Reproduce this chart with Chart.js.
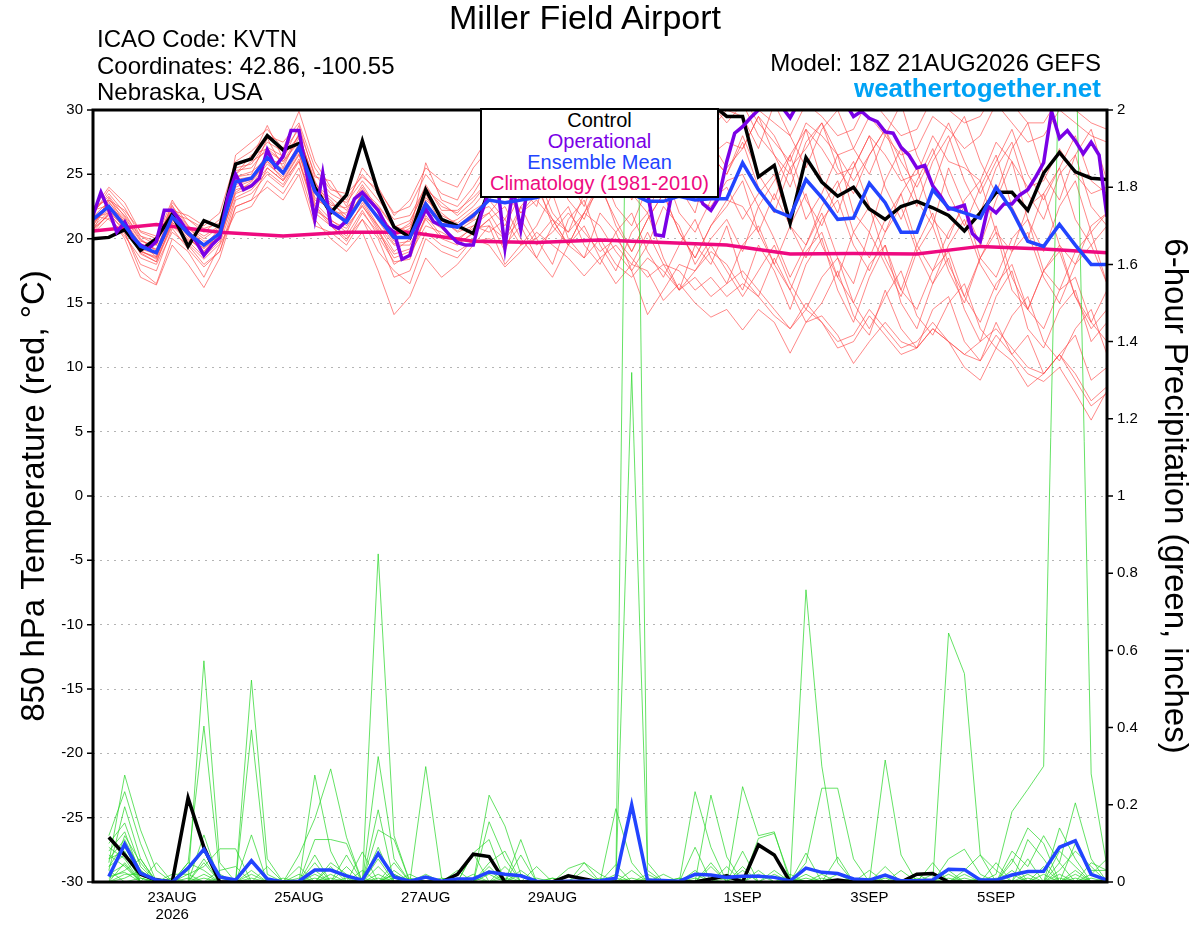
<!DOCTYPE html>
<html>
<head>
<meta charset="utf-8">
<script src="https://cdn.jsdelivr.net/npm/chart.js@4.4.1/dist/chart.umd.min.js"></script>
<style>
  body { margin: 0; background: #fff; }
  #wrap { position: relative; width: 1200px; height: 927px; font-family: "Liberation Sans", Arial, Helvetica, sans-serif; color: #000; }
  #chart { position: absolute; left: 0; top: 0; }
  .txt { position: absolute; line-height: 1; white-space: nowrap; }
  #legendBox { position: absolute; left: 480px; top: 108px; width: 239px; height: 90px; box-sizing: border-box;
    border: 2px solid #000; background: #fff; text-align: center; font-size: 20px; line-height: 21px; }
</style>
</head>
<body>
<div id="wrap">
  <canvas id="chart" width="1200" height="927"></canvas>
  <div class="txt" style="left:0;width:1170px;top:0;text-align:center;font-size:34px">Miller Field Airport</div>
  <div class="txt" style="left:97px;top:27px;font-size:24px">ICAO Code: KVTN</div>
  <div class="txt" style="left:97px;top:54px;font-size:24px">Coordinates: 42.86, -100.55</div>
  <div class="txt" style="left:97px;top:80px;font-size:24px">Nebraska, USA</div>
  <div class="txt" style="right:99px;top:51px;font-size:24px;text-align:right">Model: 18Z 21AUG2026 GEFS</div>
  <div class="txt" style="right:99px;top:75px;font-size:26px;font-weight:bold;color:#00a2f5;text-align:right">weathertogether.net</div>
  <div id="legendBox">
    <div style="color:#000">Control</div>
    <div style="color:#7a00e6">Operational</div>
    <div style="color:#2244ff">Ensemble Mean</div>
    <div style="color:#ee0a80">Climatology (1981-2010)</div>
  </div>
</div>
<script>
// x ticks (forecast hour from 18Z 21AUG2026)
const tickHours = [30, 78, 126, 174, 246, 294, 342];
const tickLabels = [['23AUG', '2026'], '25AUG', '27AUG', '29AUG', '1SEP', '3SEP', '5SEP'];

// 850 hPa temperature, 6-hourly (hour 0..384)
const controlTemp = [20.0,20.1,20.7,19.1,20.0,21.9,19.4,21.4,20.9, 25.8,26.2,28.0,26.9,27.4,
  24.0,22.0,23.4,27.6,23.6,20.9,20.1,23.8,21.5,21.0,20.4,
  23.8,24.5,24.2,25.0,26.0,25.3,26.0,27.0,26.5,27.2,28.0,27.0,28.0,29.0,30.5,29.5,
  29.5,24.8,25.7,21.2,26.3,24.4,23.3,24.0,22.3,21.5,22.5,22.9,22.4,21.8,20.6,22.0,23.6,23.6,22.2,25.1,26.7,25.2,24.7,24.6];
const meanTemp = [21.5,22.5,21.0,19.4,18.9,21.7,20.4,19.5,20.4, 24.4,24.7,26.3,25.1,27.1,
  23.7,22.2,21.3,23.2,21.6,20.1,20.1,22.7,21.1,20.9,21.8,
  23.0,22.8,23.0,23.2,23.6,23.8,24.0,23.6,23.4,23.5,22.9,22.9,23.3,23.0,23.1,23.1,
  25.9,23.8,22.2,21.7,24.6,23.2,21.5,21.6,24.3,22.8,20.5,20.5,23.8,22.4,22.0,21.6,24.0,22.2,19.8,19.4,21.1,19.5,18.0,18.0];
// operational run, 3-hourly (hour 0..384)
const operTemp = [21.8,23.6,22.2,20.5,21.3,20.1,19.5,19.2, 19.8,22.2,22.2,21.4,20.5,19.8,18.7,19.5,
  20.1,23.2,25.0,23.8,24.1,24.7,26.9,25.6, 26.4,28.4,28.4,25.0,21.5,25.1,21.1,20.8,
  21.4,23.1,23.6,22.9,22.2,21.0,20.5,18.4, 18.7,20.9,22.3,21.3,21.0,20.3,19.7,19.5,
  19.5,21.9,23.7,24.5,19.3,24.0,20.7,24.5, 26.0,27.5,28.5,29.0,29.5,30.2,30.5,30.2,
  30.5,30.8,30.5,30.3,29.0,27.0,23.5,20.3, 20.2,23.3,25.0,26.0,24.0,22.7,22.2,23.2,
  26.0,28.2,28.7,29.4,30.0,31.0,30.5,30.2, 29.4,30.5,31.0,31.5,31.0,30.8,31.0,30.5,
  29.5,29.9,29.35,29.1,28.3,28.2,27.1,26.5, 25.5,25.7,24.1,23.3,22.3,22.4,22.6,20.4,
  19.8,22.5,22.0,22.7,22.7,23.4,23.8,24.8, 25.9,29.9,27.8,28.4,27.6,26.6,27.5,26.5,
  21.7];
// climatology, daily at 18Z
const climTemp = [20.6,21.1,20.5,20.2,20.5,20.5,19.8,19.7,19.9,19.7,19.5,18.8,18.85,18.8,19.4,19.2,18.9];

// ensemble members, temperature
const tMem01 = [21.0,22.8,21.6,19.8,19.5,22.5,21.0,20.2,21.0, 25.5,25.8,27.5,26.8,28.5,
  25.0,23.5,22.8,24.5,23.0,21.5,21.8,24.0,22.5,22.0,23.5,
  25.5,25.0,26.0,27.0,28.0,27.5,28.5,28.0,29.0,28.5,29.5,28.0,29.0,30.5,31.0,30.0,
  31.0,29.0,27.5,26.0,29.0,28.0,26.5,27.0,29.5,28.0,26.5,27.0,29.5,28.5,27.0,28.0,30.5,29.0,27.5,28.0,30.0,29.0,28.0,27.5];
const tMem02 = [21.8,21.5,20.2,18.5,18.0,20.5,19.5,18.0,19.0, 23.0,23.5,25.0,24.0,26.0,
  22.5,21.0,19.8,22.0,20.5,18.5,19.0,21.5,20.0,19.5,20.5,
  21.5,19.0,22.5,20.0,18.0,21.5,23.0,19.5,17.5,20.5,22.0,18.5,16.0,19.5,18.0,21.0,
  17.0,15.5,18.5,16.0,13.5,15.0,17.5,14.0,12.5,16.0,13.0,11.5,14.5,15.5,12.0,10.5,13.5,11.0,12.5,9.5,11.0,12.5,9.0,10.0];
const tMem03 = [22.0,23.5,22.0,20.0,19.0,22.0,21.5,20.5,21.5, 25.0,26.5,27.0,26.0,28.0,
  24.5,22.0,22.0,24.0,22.0,20.5,21.0,23.5,21.0,21.5,22.5,
  24.0,26.5,23.5,25.5,28.0,24.5,22.5,26.0,27.5,23.0,25.0,28.5,24.0,22.0,26.5,25.0,
  27.5,24.0,22.0,25.5,21.5,23.5,26.5,22.0,20.5,24.5,27.0,23.0,21.0,25.5,22.5,19.5,23.0,26.0,21.5,19.0,22.5,24.5,20.5,22.0];
const tMem04 = [20.5,22.0,20.5,17.5,16.5,20.0,19.0,17.0,19.5, 22.0,22.5,24.5,23.5,25.5,
  21.5,20.0,19.0,20.5,17.5,14.1,15.5,18.5,17.0,18.0,19.5,
  21.0,18.0,19.5,21.0,23.5,20.0,18.5,22.0,20.5,17.5,19.5,22.5,21.0,18.0,20.0,21.5,
  19.0,22.5,20.0,17.0,19.5,22.0,18.5,16.5,20.5,18.0,15.5,19.0,21.0,17.5,15.0,18.5,20.5,16.0,14.5,17.5,19.0,15.5,13.5,16.0];
const tMem05 = [22.3,24.0,22.8,20.5,20.0,23.0,21.0,19.5,20.0, 26.5,27.5,28.5,27.0,29.9,
  26.0,24.0,23.0,25.0,23.5,21.0,20.5,25.9,23.0,22.5,24.0,
  26.0,25.0,27.5,26.5,28.0,29.0,27.0,28.5,29.5,27.5,28.5,30.0,29.0,28.0,30.5,29.0,
  30.5,28.0,26.5,25.0,28.5,27.0,25.0,25.5,28.0,26.5,24.5,25.0,28.0,26.0,25.5,24.5,27.5,26.0,24.0,24.5,27.0,25.0,23.5,24.0];
const tMem06 = [21.2,22.5,21.5,19.0,18.5,21.5,20.0,19.0,20.5, 24.0,24.5,26.0,25.0,27.0,
  23.0,22.5,21.0,22.5,21.0,19.5,19.5,22.0,21.5,20.5,21.0,
  22.0,23.5,22.0,23.0,21.5,20.5,22.0,21.0,19.0,17.5,14.1,16.0,18.0,17.5,19.0,18.0,
  16.0,19.5,17.5,14.5,18.0,20.0,16.0,13.5,17.0,19.5,15.0,13.0,16.5,18.5,14.5,12.0,15.5,17.5,13.0,11.5,14.5,16.0,12.0,13.5];
const tMem07 = [20.8,21.8,20.0,17.0,16.4,19.5,18.0,16.2,18.5, 22.5,23.0,25.5,24.5,26.0,
  22.0,21.0,20.0,21.5,19.0,17.5,16.5,20.0,19.0,18.5,20.0,
  19.5,17.8,19.0,20.5,19.5,18.5,17.1,18.5,19.5,18.0,17.5,15.2,16.5,15.0,13.9,14.5,
  12.9,14.5,13.5,11.1,13.5,14.0,12.5,10.3,12.0,13.5,12.0,11.5,13.0,12.0,11.0,10.5,12.5,11.0,9.5,8.9,10.0,8.0,5.9,8.2];
const tMem08 = [22.5,23.0,21.8,20.2,19.5,22.8,21.5,20.8,21.2, 24.8,25.0,27.8,25.5,28.2,
  24.0,23.0,21.5,23.5,22.5,20.8,20.5,23.0,22.0,21.0,21.5,
  23.5,25.5,24.0,22.5,26.5,27.5,25.0,23.5,26.0,28.5,26.0,24.0,27.5,29.5,26.5,25.0,
  28.0,25.0,23.0,26.5,28.5,24.5,22.0,25.5,28.0,24.0,21.5,24.5,27.0,23.5,21.0,24.0,26.5,22.5,20.0,23.5,25.5,21.5,19.5,21.0];
const tMem09 = [21.4,22.2,20.8,19.2,18.8,21.2,20.8,19.8,20.0, 23.5,24.0,25.5,24.5,26.5,
  23.5,22.0,21.5,23.0,21.0,19.0,20.0,22.5,21.5,21.0,22.0,
  22.5,21.0,23.5,24.5,21.0,19.5,22.0,24.0,21.5,19.0,21.5,23.5,20.5,18.5,21.0,22.5,
  24.5,20.5,18.0,21.0,23.5,19.5,17.0,20.5,22.5,18.5,16.0,19.5,22.0,18.0,15.5,18.5,21.0,17.0,14.5,17.5,19.5,15.5,13.0,14.5];
const tMem10 = [20.6,23.2,21.2,19.6,19.2,22.0,20.6,19.4,20.8, 25.0,26.0,26.8,26.0,27.5,
  23.8,22.8,21.8,23.2,21.8,20.2,20.8,23.2,21.8,21.2,22.2,
  23.0,24.5,22.0,23.5,25.5,23.0,21.5,24.5,26.0,23.5,22.0,25.0,26.5,23.0,22.5,24.5,
  25.0,22.5,24.5,26.5,23.0,21.0,24.0,26.0,22.5,20.5,23.5,25.5,21.5,20.0,23.0,24.5,20.5,19.0,22.5,23.5,19.5,18.0,21.0,22.0];
const tMem11 = [21.6,22.0,21.0,18.8,18.2,21.0,19.8,18.6,19.8, 23.8,24.2,25.8,24.8,26.8,
  22.8,21.5,20.5,22.8,20.8,18.0,18.8,21.0,20.5,19.8,21.0,
  20.5,21.5,19.5,20.0,21.5,19.5,18.5,20.0,18.0,17.0,18.5,17.5,16.0,17.0,15.5,16.5,
  17.5,16.0,14.5,13.0,15.0,13.5,12.0,12.5,14.5,13.0,11.5,12.0,13.5,12.0,11.0,12.0,13.0,11.5,10.0,9.5,11.0,9.5,7.4,8.5];
const tMem12 = [21.0,23.0,22.2,20.6,20.2,22.2,21.8,21.0,22.0, 26.0,26.8,28.0,27.5,29.0,
  25.5,23.8,23.5,24.8,23.8,22.0,22.5,25.0,23.5,23.0,25.5,
  27.0,26.5,25.5,27.5,29.0,28.0,29.5,30.5,29.0,30.0,31.0,29.5,30.5,31.5,30.0,31.0,
  31.5,30.0,29.0,28.0,30.5,29.5,28.0,28.5,31.0,29.5,28.0,28.5,31.0,30.0,29.0,29.5,31.5,30.5,29.0,29.0,31.0,30.0,29.0,28.5];
const tMem13 = [22.2,22.6,20.6,19.0,18.6,21.6,20.2,19.2,20.6, 24.6,24.8,26.6,25.2,27.4,
  23.2,22.2,21.2,23.6,21.4,19.6,19.8,22.8,21.2,20.8,21.6,
  23.0,21.5,24.0,25.0,22.0,20.5,23.5,25.5,22.5,21.0,24.0,25.5,22.0,20.5,23.0,24.0,
  21.5,23.5,25.0,21.0,19.5,22.5,24.5,20.5,18.5,21.5,23.5,19.5,17.5,20.5,22.5,18.5,17.0,20.0,21.5,17.5,16.0,19.0,20.5,16.5];
const tMem14 = [20.4,21.6,20.4,18.0,17.5,20.8,19.2,17.8,19.0, 22.5,23.0,24.0,23.0,25.0,
  21.0,20.5,19.5,21.5,20.0,17.0,17.5,20.5,19.5,19.0,19.8,
  20.0,19.5,21.0,18.5,17.0,19.5,21.0,18.5,16.5,18.0,20.5,18.0,16.0,17.5,19.5,17.5,
  15.5,17.5,19.5,16.5,14.5,17.0,18.5,15.0,13.0,15.5,17.5,14.0,12.5,15.0,16.5,13.0,11.5,14.0,15.5,12.0,10.5,13.0,14.5,11.0];
const tMem15 = [21.9,23.8,22.4,20.2,19.8,22.6,20.4,19.0,20.2, 25.8,26.2,28.8,26.2,28.8,
  24.8,24.5,22.5,25.5,24.0,21.8,23.0,25.5,24.5,24.0,26.0,
  28.0,27.0,28.5,29.5,27.5,28.5,30.0,29.0,30.5,29.0,28.0,29.5,30.5,29.0,28.5,30.0,
  29.5,27.0,30.5,28.0,25.5,28.5,30.0,27.0,25.0,28.0,30.5,26.5,24.0,27.5,29.5,26.0,23.5,27.0,29.0,25.0,23.0,26.5,28.5,24.5];
const tMem16 = [21.3,22.4,21.2,19.4,18.8,21.4,20.6,19.6,20.4, 24.2,24.6,26.2,25.4,27.2,
  23.6,22.4,21.6,23.4,21.6,19.8,20.4,22.6,21.4,20.6,21.4,
  22.0,20.0,22.5,24.0,21.5,19.5,22.0,24.5,21.0,19.0,21.5,23.5,20.5,18.5,21.0,23.0,
  22.5,20.5,23.5,21.0,18.5,21.5,23.0,19.5,17.5,20.5,22.5,19.0,16.5,19.5,21.5,18.0,16.0,19.0,20.5,17.0,15.0,18.0,19.5,16.5];
const tMem17 = [20.9,22.1,21.4,19.6,18.6,21.8,20.2,18.8,20.2, 24.8,25.2,26.2,25.8,27.8,
  24.2,23.2,22.2,24.2,22.2,20.4,21.2,24.2,22.2,22.2,23.2,
  24.5,25.5,24.5,26.0,25.0,26.5,27.5,26.0,27.0,28.0,26.5,27.0,28.5,27.5,26.5,27.5,
  27.0,29.5,28.0,25.5,27.0,29.0,26.5,24.5,26.5,28.5,26.0,24.0,26.5,29.0,26.0,23.5,26.0,28.5,25.0,23.0,25.5,28.0,24.5,23.5];
const tMem18 = [21.7,22.9,21.1,19.1,18.4,21.1,19.9,19.3,20.1, 23.6,24.4,26.0,24.6,26.6,
  22.6,21.2,20.2,22.2,20.2,18.2,18.4,21.8,20.2,20.0,20.8,
  21.0,20.0,21.5,19.5,20.5,22.0,20.5,19.0,20.0,18.5,17.0,18.0,17.5,16.0,17.0,15.5,
  16.5,15.5,14.0,13.0,14.5,13.5,11.5,12.0,14.0,12.5,11.0,11.5,13.0,12.0,10.0,9.0,11.5,10.5,8.5,9.5,11.0,9.0,7.0,8.0];
const tMem19 = [22.1,23.3,21.7,19.9,19.1,22.3,20.9,20.0,20.9, 25.3,25.5,27.1,26.4,28.0,
  24.4,22.6,22.4,23.8,22.6,20.9,21.4,23.8,22.8,21.8,22.9,
  24.5,26.5,25.0,23.5,26.0,28.5,26.0,24.0,27.0,29.5,27.0,25.0,27.5,30.0,27.5,25.5,
  27.0,29.5,26.5,24.0,27.5,29.0,25.5,23.5,26.5,28.5,25.0,22.5,26.0,28.0,24.5,22.0,25.5,27.5,23.5,21.5,25.0,26.5,22.5,21.0];
const tMem20 = [20.7,21.9,20.7,18.9,18.2,21.3,19.6,18.4,19.6, 23.2,23.8,25.2,24.2,26.2,
  22.2,21.4,20.8,22.6,20.6,18.8,19.2,21.6,20.8,19.6,20.4,
  21.5,22.5,20.0,18.5,21.0,22.5,19.5,18.0,20.5,22.0,19.0,17.0,19.5,21.5,18.5,16.5,
  19.5,21.0,18.0,16.0,19.0,20.5,17.0,15.0,18.0,19.5,16.0,14.5,17.5,19.0,15.5,13.5,16.5,18.0,14.5,13.0,16.0,17.0,13.5,12.0];

// 6-hour precipitation (inches), hour 6..384
const controlPrecip = [.116,.07,.02,.005,0,.218,.09,0,0,0,0,0,0,0,0,0,
  0,0,0,0,0,0,.02,.072,.066,0,0,0,0,.016,.008,0,
  0,0,0,0,0,0,.008,.016,0,.096,.07,0,0,0,.005,0,
  0,0,0,.02,.022,0,0,0,0,0,0,0,0,0,0,0];
const meanPrecip = [.014,.098,.023,.005,0,.036,.085,.013,.005,.055,.008,0,.002,.031,.031,.016,
  .005,.074,.013,.002,.013,.002,.008,.008,.026,.02,.016,.002,0,.002,.002,.003,
  .01,.2,.005,.004,.002,.02,.018,.012,.015,.015,.012,.003,.036,.025,.022,.008,
  .005,.018,.003,.003,.005,.033,.032,.005,.005,.018,.027,.028,.09,.107,.02,.005];

const pMem01 = [.05,.277,.135,.03,0,0,.573,.05,0,0,0,0,0,0,0,0,
  0,.85,.12,0,0,0,0,0,0,0,0,0,0,0,0,0,
  0,3.3,.05,0,0,0,0,0,0,0,0,0,.757,.3,.05,0,
  0,0,0,0,0,.645,.54,.07,0,0,0,0,0,0,0,0];
const pMem02 = [.12,.234,.1,0,0,.05,.404,.02,0,.523,.06,0,0,0,0,0,
  0,.325,.06,0,.299,.01,0,0,0,0,0,0,0,0,0,0,
  0,1.32,.03,0,0,0,0,0,0,0,0,0,0,0,0,0,
  0,.316,.07,0,0,0,0,0,0,0,0,0,.05,.205,.06,0];
const pMem03 = [.03,.195,.06,0,0,0,0,0,0,.394,.02,0,0,.277,.08,0,
  0,0,0,0,0,0,0,0,.225,.145,.02,0,0,0,0,0,
  .19,.05,0,0,0,.234,.09,0,0,0,0,0,.05,.243,.243,.06,
  0,0,0,0,0,0,0,0,0,0,0,0,0,0,0,0];
const pMem04 = [.1,.153,.04,0,0,0,.122,0,0,0,0,0,.07,.164,.293,.116,
  0,.187,0,0,0,0,0,0,.156,.06,0,0,0,0,0,0,
  0,0,0,0,0,0,.225,.065,0,0,0,0,0,0,0,0,
  0,0,0,0,0,0,0,0,.02,.182,.24,.3,2.2,2.25,.28,.04];
const pMem05 = [.08,.13,.02,0,0,.03,.08,0,0,.122,0,0,0,.11,.11,.1,
  0,.135,.11,0,0,0,0,.075,.11,0,.11,0,0,0,0,0,
  0,0,0,0,0,0,0,0,.247,.12,.13,0,0,0,0,0,
  0,0,0,0,0,0,0,0,0,.05,.14,.1,0,0,0,0];
const pMem06 = [.06,.11,.03,0,0,0,.06,0,0,.057,0,0,0,.07,0,.07,
  0,.09,0,0,0,0,0,.075,0,0,.07,0,0,.035,.05,0,
  0,0,0,0,0,.09,0,0,0,.113,.126,.01,0,0,0,0,
  0,0,0,0,0,.06,.085,.02,0,0,.11,.06,0,0,0,0];
const pMem07 = [.02,.09,.02,0,.02,.02,.04,.086,.086,0,0,0,0,0,0,0,
  .078,0,.02,0,0,0,.03,0,0,0,0,.04,0,0,.05,.02,
  0,0,0,0,0,0,0,.04,0,0,0,0,0,0,.065,0,
  0,.04,0,0,.02,0,0,0,0,.06,0,0,.03,.08,.04,0];
const pMem08 = [.04,.07,.01,0,0,.05,.03,0,0,0,0,0,.02,0,.04,0,
  .03,0,.05,0,0,0,0,0,.05,.08,0,0,0,0,0,0,
  .045,0,.02,0,0,0,.04,0,.08,0,0,0,.075,0,0,0,
  0,0,0,0,0,0,.03,.07,.03,0,0,0,0,.1,.03,.03];
const pMem09 = [0,.05,0,.05,0,0,0,0,0,0,.04,0,0,.03,0,0,
  0,.06,0,0,.02,0,0,0,0,.04,0,0,0,0,0,0,
  0,0,0,.02,0,.03,0,0,0,0,0,.02,0,0,0,0,
  .03,0,.03,0,0,.03,0,0,0,.08,.04,.12,.05,0,0,0];
const pMem10 = [.01,.03,.06,0,0,.01,0,0,0,.03,0,0,0,0,.05,.02,
  0,0,0,.02,0,0,0,0,.04,0,0,0,.01,0,0,0,
  .02,0,0,0,.01,0,0,0,.03,0,0,0,0,.02,0,0,
  0,0,0,.02,0,0,0,0,.05,0,0,0,.14,.06,0,0];
const pMem11 = [.07,.04,0,0,0,0,.02,0,0,0,0,0,.04,0,0,0,
  0,0,.03,0,0,.01,0,0,0,0,.03,0,0,0,0,0,
  0,.03,0,0,0,0,0,.02,0,0,0,0,0,0,0,.01,
  0,0,0,0,0,0,.02,0,0,0,0,0,0,0,.02,.06];
const pMem12 = [0,.02,.02,0,0,0,0,.03,.04,0,0,0,0,.05,0,0,
  0,.04,0,0,0,0,0,.02,0,0,0,0,0,.02,0,0,
  0,0,0,0,0,.02,0,0,0,0,.03,0,0,0,.02,0,
  0,0,0,0,0,0,0,0,0,.03,0,.04,0,.03,0,0];
const pMem13 = [.09,.06,0,0,0,0,0,0,0,.02,0,0,0,0,0,.04,
  0,.02,0,0,0,0,0,0,0,.02,0,0,0,0,.03,0,
  0,0,0,0,0,0,.05,0,0,.03,0,0,0,0,0,0,
  0,.01,0,0,.05,0,0,0,0,0,.02,0,.02,0,0,0];
const pMem14 = [.03,0,.01,0,0,0,.05,0,0,0,0,.01,0,0,.02,0,
  0,0,0,.01,0,0,0,0,.03,0,0,0,0,0,0,0,
  0,0,.01,0,0,0,0,0,.04,0,0,0,.02,0,0,0,
  0,0,0,0,0,.02,0,0,0,0,0,0,.08,.04,0,0];
const pMem15 = [0,.12,.05,0,0,0,0,0,0,0,0,0,0,.02,0,0,
  0,0,.02,0,0,0,0,.01,0,0,0,0,0,0,0,.01,
  0,0,0,0,0,.01,0,0,0,0,0,0,0,.01,0,0,
  0,0,0,0,0,0,0,.01,0,0,.06,0,0,0,.05,.03];
const pMem16 = [.015,.025,0,0,0,.02,0,0,0,.01,0,0,0,0,0,0,
  .01,0,0,0,0,0,0,0,0,0,.02,0,0,0,0,0,
  0,.01,0,0,0,0,0,0,0,0,.02,0,0,0,0,0,
  0,.02,0,0,0,0,.01,0,0,0,0,.02,0,.02,0,0];
const pMem17 = [.04,.1,0,.01,0,0,.01,0,0,0,0,0,0,0,0,.01,
  0,0,0,0,.01,0,0,0,.02,0,0,0,0,0,0,0,
  .01,0,0,0,0,0,0,0,0,.02,0,0,0,0,0,0,
  .01,0,0,0,0,0,0,0,0,.02,0,0,0,0,.01,0];
const pMem18 = [0,.01,.03,0,0,0,0,0,0,0,0,0,0,.01,0,0,
  0,.01,0,0,0,0,0,0,0,.01,0,0,0,0,0,0,
  0,0,0,0,0,0,0,.01,0,0,0,0,0,0,0,0,
  0,0,0,.01,0,0,0,0,0,0,.01,0,0,0,0,.01];
const pMem19 = [.06,.08,0,0,.01,0,0,0,0,0,0,0,0,0,.01,0,
  0,0,0,0,0,0,.01,0,0,0,0,0,.01,0,0,0,
  0,0,0,0,0,0,0,0,0,0,0,0,.01,0,0,0,
  0,0,0,0,0,0,0,0,.01,0,0,0,.01,0,0,0];
const pMem20 = [.02,.045,0,0,0,0,0,.01,0,0,0,0,.01,0,0,0,
  0,0,.01,0,0,0,0,0,0,0,0,.01,0,0,0,0,
  0,0,0,0,.01,0,0,0,0,0,0,.01,0,0,0,0,
  0,0,0,0,0,.01,0,0,0,0,0,0,0,.01,0,0];

const tempMembers = [tMem01, tMem02, tMem03, tMem04, tMem05, tMem06, tMem07, tMem08, tMem09, tMem10,
  tMem11, tMem12, tMem13, tMem14, tMem15, tMem16, tMem17, tMem18, tMem19, tMem20];
const precipMembers = [pMem01, pMem02, pMem03, pMem04, pMem05, pMem06, pMem07, pMem08, pMem09, pMem10,
  pMem11, pMem12, pMem13, pMem14, pMem15, pMem16, pMem17, pMem18, pMem19, pMem20];

// forecast hours for each series
const hours6 = Array.from({ length: 65 }, (_, i) => i * 6);
const hours3 = Array.from({ length: 129 }, (_, i) => i * 3);
const precipHours = hours6.slice(1);
const climHours = Array.from({ length: 17 }, (_, i) => i * 24);

function toPoints(xs, ys) {
  return ys.map((y, i) => ({ x: xs[i], y: y }));
}

const FONT = '"Liberation Sans", Arial, Helvetica, sans-serif';

function lineSet(data, axis, color, width, order) {
  return {
    data: data, yAxisID: axis, borderColor: color, borderWidth: width, order: order,
    pointRadius: 0, tension: 0, fill: false, clip: 0
  };
}

const datasets = [];
tempMembers.forEach(m => datasets.push(lineSet(toPoints(hours6, m), 'yT', 'rgba(255,70,70,0.8)', 0.8, 10)));
precipMembers.forEach(m => datasets.push(lineSet(toPoints(precipHours, m), 'yP', 'rgba(40,215,40,0.9)', 0.8, 9)));
datasets.push(lineSet(toPoints(climHours, climTemp), 'yT', '#ee0a80', 3.5, 5));
datasets.push(lineSet(toPoints(hours6, controlTemp), 'yT', '#000000', 3.5, 4));
datasets.push(lineSet(toPoints(hours3, operTemp), 'yT', '#7a00e6', 3.5, 3));
datasets.push(lineSet(toPoints(hours6, meanTemp), 'yT', '#2244ff', 3.5, 2));
datasets.push(lineSet(toPoints(precipHours, controlPrecip), 'yP', '#000000', 3.5, 4));
datasets.push(lineSet(toPoints(precipHours, meanPrecip), 'yP', '#2244ff', 3.5, 2));

// frame + outward tick marks on both y axes
const framePlugin = {
  id: 'frame',
  afterDraw(chart) {
    const { ctx, chartArea: a, scales } = chart;
    ctx.save();
    ctx.strokeStyle = '#000';
    ctx.lineWidth = 1.5;
    ctx.beginPath();
    scales.yT.ticks.forEach(t => {
      const y = scales.yT.getPixelForValue(t.value);
      ctx.moveTo(a.left - 6, y); ctx.lineTo(a.left, y);
    });
    scales.yP.ticks.forEach(t => {
      const y = scales.yP.getPixelForValue(t.value);
      ctx.moveTo(a.right, y); ctx.lineTo(a.right + 6, y);
    });
    ctx.stroke();
    ctx.lineWidth = 3;
    ctx.strokeRect(a.left, a.top, a.right - a.left, a.bottom - a.top);
    ctx.restore();
  }
};

new Chart(document.getElementById('chart'), {
  type: 'line',
  data: { datasets: datasets },
  options: {
    responsive: false,
    animation: false,
    events: [],
    layout: { padding: { top: 110, left: 0, right: 0, bottom: 0 } },
    plugins: { legend: { display: false }, tooltip: { enabled: false }, title: { display: false } },
    scales: {
      x: {
        type: 'linear', min: 0, max: 384,
        afterFit: s => { s.height = 45; },
        afterBuildTicks: s => { s.ticks = tickHours.map(v => ({ value: v })); },
        ticks: {
          autoSkip: false, maxRotation: 0, padding: 8, color: '#000',
          font: { family: FONT, size: 15, lineHeight: 1.1 },
          callback: (v, i) => tickLabels[i]
        },
        grid: { display: false, drawTicks: false },
        border: { display: false }
      },
      yT: {
        position: 'left', min: -30, max: 30,
        afterFit: s => { s.width = 93; },
        ticks: { stepSize: 5, padding: 10, color: '#000', font: { family: FONT, size: 15 } },
        grid: { color: '#b4b4b4', lineWidth: 1, drawTicks: false },
        border: { display: false, dash: [2, 5] },
        title: {
          display: true, text: '850 hPa Temperature (red, °C)', color: '#000',
          font: { family: FONT, size: 33 }, padding: { top: 15, bottom: 0 }
        }
      },
      yP: {
        position: 'right', min: 0, max: 2,
        afterFit: s => { s.width = 93; },
        ticks: {
          stepSize: 0.2, padding: 10, color: '#000', font: { family: FONT, size: 15 },
          callback: v => String(+v.toFixed(1))
        },
        grid: { display: false, drawTicks: false },
        border: { display: false },
        title: {
          display: true, text: '6-hour Precipitation (green, inches)', color: '#000',
          font: { family: FONT, size: 33 }, padding: { top: 6, bottom: 0 }
        }
      }
    }
  },
  plugins: [framePlugin]
});
</script>
</body>
</html>
